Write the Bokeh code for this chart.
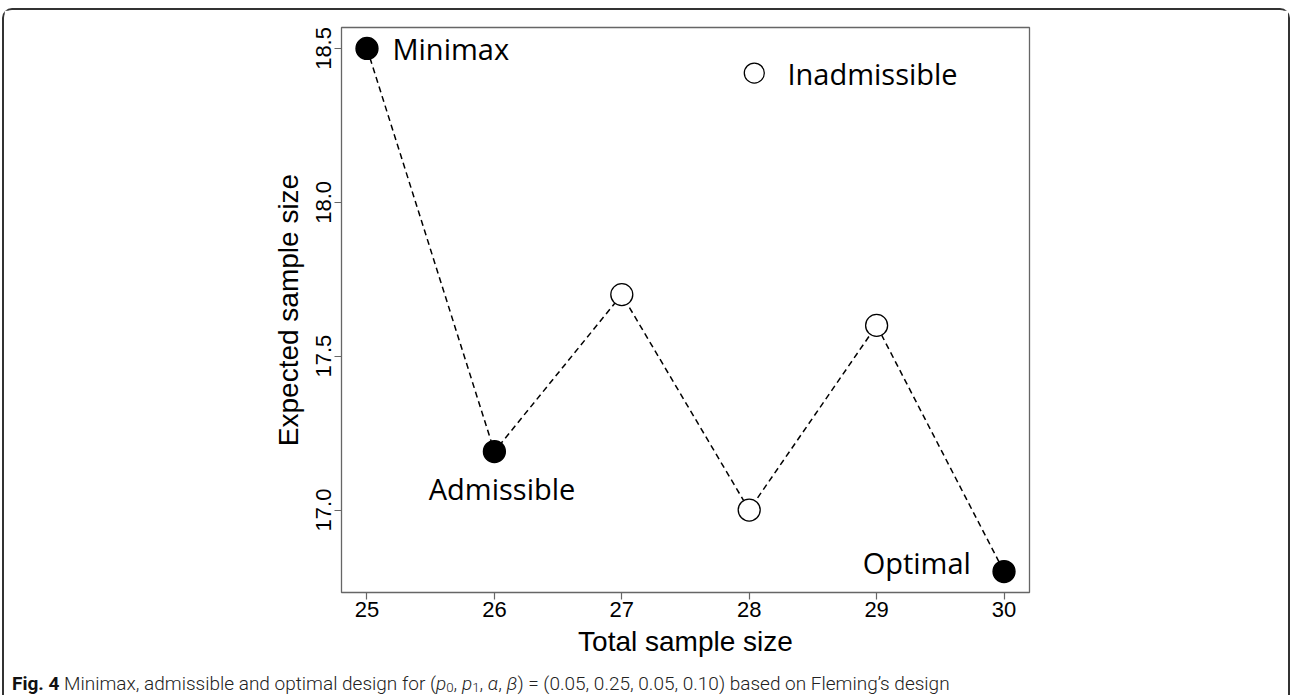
from bokeh.plotting import figure
from bokeh.models import FixedTicker, Div, ColumnDataSource, Range1d
from bokeh.layouts import column
from bokeh.core.properties import value
from bokeh.embed import file_html
from bokeh.resources import INLINE

# ---- data ----
total_n = [25, 26, 27, 28, 29, 30]
expected_n = [18.50, 17.19, 17.70, 17.00, 17.60, 16.80]
design = ["Minimax", "Admissible", "Inadmissible", "Inadmissible", "Inadmissible", "Optimal"]
x_ticks = [25, 26, 27, 28, 29, 30]
y_ticks = [17.0, 17.5, 18.0, 18.5]
y_tick_labels = ["17.0", "17.5", "18.0", "18.5"]

# annotation labels (text, x, y, align)
ann_text = ["Minimax", "Admissible", "Optimal"]
ann_x = [25.20, 26.06, 29.74]
ann_y = [18.50, 17.07, 16.83]
ann_align = ["left", "center", "right"]
legend_text = "Inadmissible"
legend_marker_xy = (28.04, 18.42)
legend_text_xy = (28.30, 18.42)

sub = '<sub style="font-size:70%;vertical-align:-0.15em;line-height:0">{}</sub>'
caption_html = ('<span style="font-weight:700;color:#111">Fig. 4</span> Minimax, admissible and optimal design for '
                "(<i>p</i>" + sub.format("0") + ", <i>p</i>" + sub.format("1") +
                ", <i>α</i>, <i>β</i>) = "
                "(0.05, 0.25, 0.05, 0.10) based on Fleming’s design")

p = figure(width=1284, height=657, output_backend="svg", toolbar_location=None,
           x_range=Range1d(24.8, 30.2), y_range=Range1d(16.732, 18.568),
           min_border_left=337, min_border_right=259, min_border_top=17, min_border_bottom=75)
p.grid.visible = False
p.outline_line_color = "#666666"
p.outline_line_width = 1.3
p.background_fill_color = "white"
p.border_fill_color = "white"

# axes
for ax in (p.xaxis[0], p.yaxis[0]):
    ax.axis_line_color = None
    ax.major_tick_line_color = "#666666"
    ax.major_tick_line_width = 1.2
    ax.major_tick_in = 0
    ax.major_tick_out = 7
    ax.minor_tick_line_color = None
    ax.major_label_text_font = "Liberation Sans"
    ax.major_label_text_font_size = "22px"
    ax.major_label_text_color = "black"
    ax.axis_label_text_font = "Liberation Sans"
    ax.axis_label_text_font_size = "28px"
    ax.axis_label_text_font_style = "normal"
    ax.axis_label_text_color = "black"

p.xaxis.ticker = FixedTicker(ticks=x_ticks)
p.yaxis.ticker = FixedTicker(ticks=y_ticks)
p.yaxis.major_label_overrides = {t: l for t, l in zip(y_ticks, y_tick_labels)}
p.yaxis.major_label_orientation = "vertical"
p.xaxis.major_label_standoff = 2
p.yaxis.major_label_standoff = 3
p.xaxis.axis_label = "Total sample size"
p.yaxis.axis_label = "Expected sample size"
p.xaxis.axis_label_standoff = 6
p.yaxis.axis_label_standoff = 10

# dashed connecting line
p.line(total_n, expected_n, line_color="black", line_width=1.5, line_dash="6 4")

# markers
fill = ["white" if d == "Inadmissible" else "black" for d in design]
src = ColumnDataSource(dict(x=total_n, y=expected_n, fill=fill))
p.scatter("x", "y", source=src, size=22, fill_color="fill", line_color="black", line_width=1.3)

# annotations
p.text(ann_x, ann_y, text=ann_text, text_align=ann_align, text_baseline="middle",
       text_font=value("Open Sans"), text_font_size="29px", text_color="black")

# legend-like entry for inadmissible
p.scatter([legend_marker_xy[0]], [legend_marker_xy[1]], size=20, fill_color="white",
          line_color="black", line_width=1.3)
p.text([legend_text_xy[0]], [legend_text_xy[1]], text=[legend_text], text_align="left",
       text_baseline="middle", text_font=value("Open Sans"), text_font_size="29px",
       text_color="black")

cap = Div(text=caption_html, width=1284, height=26,
          styles={"font-family": "Roboto", "font-size": "19px", "font-weight": "300",
                  "color": "#222", "line-height": "24px", "padding-left": "3px",
                  "white-space": "nowrap", "overflow": "visible"})

layout = column(p, cap, width=1288, margin=(8, 0, 0, 2),
                styles={"border": "2px solid #333", "border-bottom": "none",
                        "border-radius": "10px 10px 0 0", "background": "white"})

open("out.html", "w").write(file_html(layout, INLINE))
